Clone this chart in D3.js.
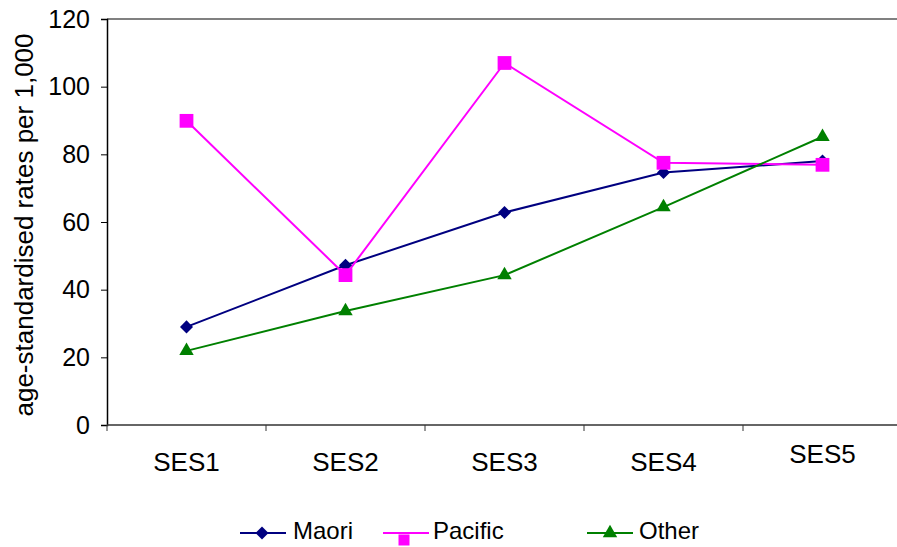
<!DOCTYPE html>
<html>
<head>
<meta charset="utf-8">
<script src="https://cdn.jsdelivr.net/npm/d3@7"></script>
<style>
  body { margin: 0; background: #fff; }
  text { font-family: "Liberation Sans", Arial, sans-serif; fill: #000; }
</style>
</head>
<body>
<svg width="897" height="547"></svg>
<script>
const categories = ["SES1", "SES2", "SES3", "SES4", "SES5"];
const maori = [29, 47.2, 62.8, 74.6, 78];
const pacific = [89.9, 44.3, 107, 77.5, 76.9];
const other = [21.9, 33.7, 44.3, 64.4, 85.2];
const yTicks = [0, 20, 40, 60, 80, 100, 120];

const series = [
  { name: "Maori", values: maori, color: "#000080", shape: d3.symbolSquare, size: 85, rot: 45 },
  { name: "Pacific", values: pacific, color: "#ff00ff", shape: d3.symbolSquare, size: 190, rot: 0 },
  { name: "Other", values: other, color: "#008000", shape: d3.symbolTriangle, size: 90, rot: 0 }
];

const svg = d3.select("svg");
const plotLeft = 107, plotTop = 19, plotBottom = 425, plotRight = 902;

const x = d3.scaleBand().domain(categories).range([plotLeft, plotRight]);
const y = d3.scaleLinear().domain([0, 120]).range([plotBottom, plotTop]);

// top frame line
svg.append("line")
  .attr("x1", plotLeft).attr("x2", 897)
  .attr("y1", plotTop).attr("y2", plotTop)
  .attr("stroke", "#808080").attr("stroke-width", 2);

// y axis
const yAxis = svg.append("g")
  .attr("transform", `translate(${plotLeft},0)`)
  .call(d3.axisLeft(y).tickValues(yTicks).tickSize(6).tickPadding(11));
yAxis.select(".domain").attr("stroke", "#000").attr("stroke-width", 1.5);
yAxis.selectAll(".tick line").attr("stroke", "#000");
yAxis.selectAll("text").style("font-size", "25px").attr("font-family", "Liberation Sans, Arial, sans-serif");

// x axis line and boundary ticks
svg.append("line")
  .attr("x1", plotLeft).attr("x2", 897)
  .attr("y1", plotBottom).attr("y2", plotBottom)
  .attr("stroke", "#333").attr("stroke-width", 1.5);
svg.selectAll(".xtick")
  .data(categories)
  .enter().append("line")
  .attr("x1", d => x(d)).attr("x2", d => x(d))
  .attr("y1", plotBottom).attr("y2", plotBottom + 6)
  .attr("stroke", "#333");

svg.selectAll(".xlabel")
  .data(categories)
  .enter().append("text")
  .attr("x", d => x(d) + x.bandwidth() / 2)
  .attr("y", (d, i) => i === 4 ? 463 : 471)
  .attr("text-anchor", "middle")
  .style("font-size", "26px")
  .text(d => d);

// y axis title
svg.append("text")
  .attr("transform", "translate(33,225) rotate(-90)")
  .attr("text-anchor", "middle")
  .style("font-size", "26px")
  .text("age-standardised rates per 1,000");

const line = d3.line()
  .x((d, i) => x(categories[i]) + x.bandwidth() / 2)
  .y(d => y(d));

series.forEach(s => {
  svg.append("path")
    .datum(s.values)
    .attr("fill", "none")
    .attr("stroke", s.color)
    .attr("stroke-width", 2)
    .attr("d", line);
});

series.forEach(s => {
  svg.selectAll(null)
    .data(s.values)
    .enter().append("path")
    .attr("d", d3.symbol().type(s.shape).size(s.size))
    .attr("transform", (d, i) => `translate(${x(categories[i]) + x.bandwidth() / 2},${y(d)}) rotate(${s.rot})`)
    .attr("fill", s.color);
});

// legend
const legendX = [240, 383, 587];
const legendText = [293, 433, 639];
const legendY = 533;
series.forEach((s, i) => {
  const g = svg.append("g").attr("transform", `translate(${legendX[i]},${legendY})`);
  g.append("line").attr("x1", 0).attr("x2", 46).attr("y1", 0).attr("y2", 0)
    .attr("stroke", s.color).attr("stroke-width", 2);
  g.append("path")
    .attr("d", d3.symbol().type(s.shape).size(s.name === "Pacific" ? 121 : s.size))
    .attr("transform", (s.name === "Pacific" ? "translate(21,7)" : s.name === "Other" ? "translate(23,0)" : "translate(22,0)") + ` rotate(${s.rot})`)
    .attr("fill", s.color);
  svg.append("text")
    .attr("x", legendText[i])
    .attr("y", legendY + 6)
    .style("font-size", "24px")
    .text(s.name);
});
</script>
</body>
</html>
